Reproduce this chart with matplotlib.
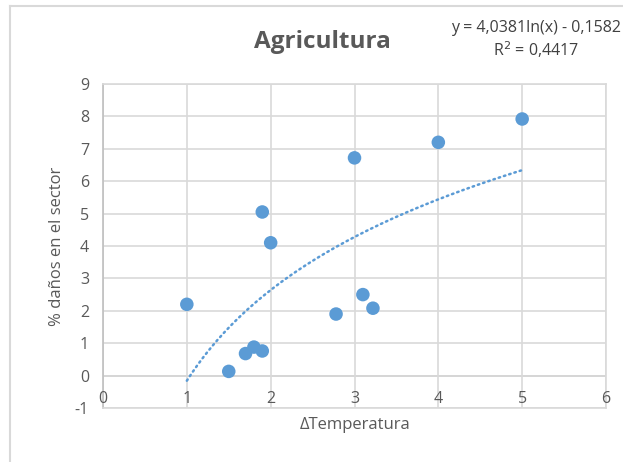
import numpy as np
import matplotlib
matplotlib.use("Agg")
import matplotlib.pyplot as plt
from matplotlib.lines import Line2D

# Temperature increase vs. percentage of damage in the agriculture sector
delta_temp = [1.0, 1.5, 1.7, 1.8, 1.9, 1.9, 2.0, 2.78, 3.0, 3.1, 3.22, 4.0, 5.0]
damage_pct = [2.2, 0.13, 0.68, 0.88, 0.76, 5.05, 4.1, 1.9, 6.72, 2.5, 2.08, 7.2, 7.92]

# Logarithmic trend line coefficients
trend_a = 4.0381
trend_b = -0.1582
trend_r2 = 0.4417

x_ticks = [0, 1, 2, 3, 4, 5, 6]
y_ticks = [-1, 0, 1, 2, 3, 4, 5, 6, 7, 8, 9]

plt.rcParams['font.family'] = ['Open Sans', 'DejaVu Sans']
plt.rcParams['axes.unicode_minus'] = False

W, H = 623, 462
fig = plt.figure(figsize=(W / 100, H / 100), dpi=100)
fig.patch.set_facecolor('white')

# chart-area frame
fig.add_artist(Line2D([10 / W, 10 / W], [0, 1 - 6 / H], color='#d9d9d9', lw=1.5))
fig.add_artist(Line2D([10 / W, 1], [1 - 6 / H, 1 - 6 / H], color='#d9d9d9', lw=1.5))

left, right, top, bottom = 103, 606, 84, 408
ax = fig.add_axes([left / W, 1 - bottom / H, (right - left) / W, (bottom - top) / H])
ax.set_xlim(0, 6)
ax.set_ylim(-1, 9)
ax.set_xticks(x_ticks)
ax.set_yticks(y_ticks)

grid_c = '#d9d9d9'
ax.grid(True, color=grid_c, lw=1.2, zorder=0)
for s in ax.spines.values():
    s.set_color(grid_c)
    s.set_linewidth(1.2)
ax.spines['left'].set_color('#bfbfbf')
ax.axhline(0, color='#bfbfbf', lw=1.2, zorder=1)
ax.tick_params(length=0, colors='#595959', labelsize=11.5)
ax.tick_params(axis='y', pad=10)

# x tick labels sit just below the y=0 axis line
ax.set_xticklabels([])
for xv in x_ticks:
    ax.text(xv, -0.72, str(xv), ha='center', va='center', color='#595959', fontsize=11.5)

blue = '#5b9bd5'
xt = np.linspace(1, 5, 200)
ax.plot(xt, trend_a * np.log(xt) + trend_b, color=blue, lw=1.8,
        linestyle=(0, (0.6, 1.6)), dash_capstyle='round', zorder=2)
ax.scatter(delta_temp, damage_pct, s=95, color=blue, edgecolors='none', zorder=3)

fig.text(355 / W, 1 - 425 / H, 'ΔTemperatura', ha='center', va='center',
         color='#595959', fontsize=12)
ax.set_ylabel('% daños en el sector', color='#595959', fontsize=12, labelpad=7)

fig.text(322 / W, 1 - 42 / H, 'Agricultura', ha='center', va='center',
         fontsize=17.5, fontweight='bold', color='#595959')
eq = f"y = {trend_a:.4f}ln(x) - {abs(trend_b):.4f}".replace('.', ',')
fig.text(536 / W, 1 - 28 / H, eq, ha='center', va='center', fontsize=11.5, color='#404040')
fig.text(536 / W, 1 - 50 / H, f"R$^2$ = {trend_r2:.4f}".replace('.', ','),
         ha='center', va='center', fontsize=11.5, color='#404040')

fig.savefig('out.png', dpi=100)
